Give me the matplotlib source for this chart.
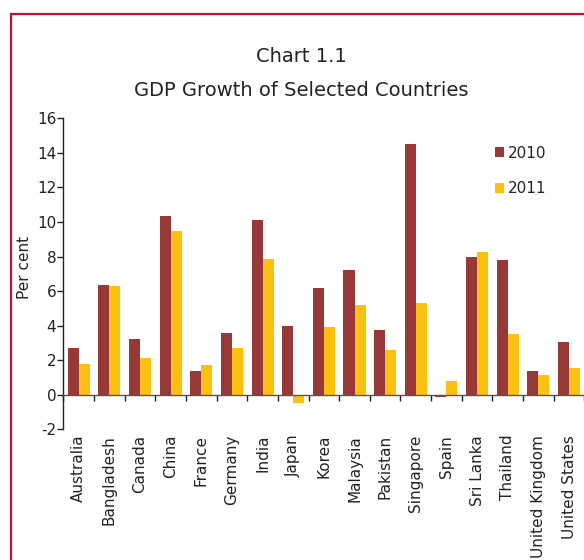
import matplotlib
matplotlib.use("Agg")
import matplotlib.pyplot as plt
from matplotlib.patches import Patch, Rectangle
import numpy as np

countries = ["Australia", "Bangladesh", "Canada", "China", "France", "Germany",
             "India", "Japan", "Korea", "Malaysia", "Pakistan", "Singapore",
             "Spain", "Sri Lanka", "Thailand", "United Kingdom", "United States"]
growth_2010 = [2.7, 6.35, 3.2, 10.35, 1.4, 3.6, 10.1, 4.0, 6.2, 7.2, 3.75, 14.5,
               -0.15, 8.0, 7.8, 1.4, 3.05]
growth_2011 = [1.8, 6.3, 2.1, 9.5, 1.7, 2.7, 7.85, -0.5, 3.9, 5.2, 2.6, 5.3,
               0.8, 8.25, 3.5, 1.15, 1.55]
series_labels = ["2010", "2011"]
y_ticks = [-2, 0, 2, 4, 6, 8, 10, 12, 14, 16]

c2010 = "#973936"
c2011 = "#FBC012"
frame_red = "#C8102E"
text_col = "#222222"

W, H = 584, 560
fig = plt.figure(figsize=(W / 100, H / 100), dpi=100)
fig.patch.set_facecolor("white")

# outer frame (left and top edges visible)
fig.add_artist(Rectangle((10.5 / W, -0.1), 1.2, 1 - 13.5 / H + 0.1,
                         transform=fig.transFigure, fill=False,
                         edgecolor=frame_red, linewidth=1.6))

left, right = 63.3 / W, 584.4 / W
bottom, top = 1 - 429.3 / H, 1 - 118.3 / H
ax = fig.add_axes([left, bottom, right - left, top - bottom])

x = np.arange(len(countries))
bw = 0.36
ax.bar(x - bw / 2, growth_2010, bw, color=c2010, linewidth=0)
ax.bar(x + bw / 2, growth_2011, bw, color=c2011, linewidth=0)

ax.set_xlim(-0.5, len(countries) - 0.5)
ax.set_ylim(-2, 16)

for s in ["top", "right"]:
    ax.spines[s].set_visible(False)
ax.spines["left"].set_color(text_col)
ax.spines["left"].set_linewidth(1.0)
ax.spines["bottom"].set_position(("data", 0))
ax.spines["bottom"].set_color("#555555")
ax.spines["bottom"].set_linewidth(1.0)

ax.set_yticks(y_ticks)
ax.set_yticklabels([str(v) for v in y_ticks])
ax.tick_params(axis="y", direction="out", length=4, width=1.0, pad=1,
               labelsize=11, colors=text_col)

# category boundary ticks on the zero line
ax.set_xticks(np.arange(len(countries) + 1) - 0.5)
ax.set_xticklabels([])
ax.tick_params(axis="x", direction="out", length=4, width=1.0, color=text_col)

# country names below the plot area
sec = ax.secondary_xaxis("bottom")
sec.set_xticks(x)
sec.set_xticklabels(countries, rotation=90, fontsize=11, color=text_col)
sec.tick_params(length=0, pad=4)
sec.spines["bottom"].set_visible(False)

ax.set_ylabel("Per cent", fontsize=11, color=text_col)
ax.yaxis.set_label_coords(-0.060, 0.52)

fig.text(301 / W, 1 - 57 / H, "Chart 1.1", ha="center", va="center",
         fontsize=14, color=text_col)
fig.text(301 / W, 1 - 91 / H, "GDP Growth of Selected Countries", ha="center",
         va="center", fontsize=14, color=text_col)

handles = [Patch(facecolor=c2010, edgecolor="none"),
           Patch(facecolor=c2011, edgecolor="none")]
fig.legend(handles, series_labels, loc="upper left",
           bbox_to_anchor=(490 / W, 1 - 141 / H), frameon=False,
           fontsize=11, handlelength=0.6, handleheight=0.6, handletextpad=0.25,
           labelspacing=1.35, borderaxespad=0, borderpad=0.3,
           labelcolor=text_col)

fig.savefig("out.png", dpi=100, facecolor="white")
